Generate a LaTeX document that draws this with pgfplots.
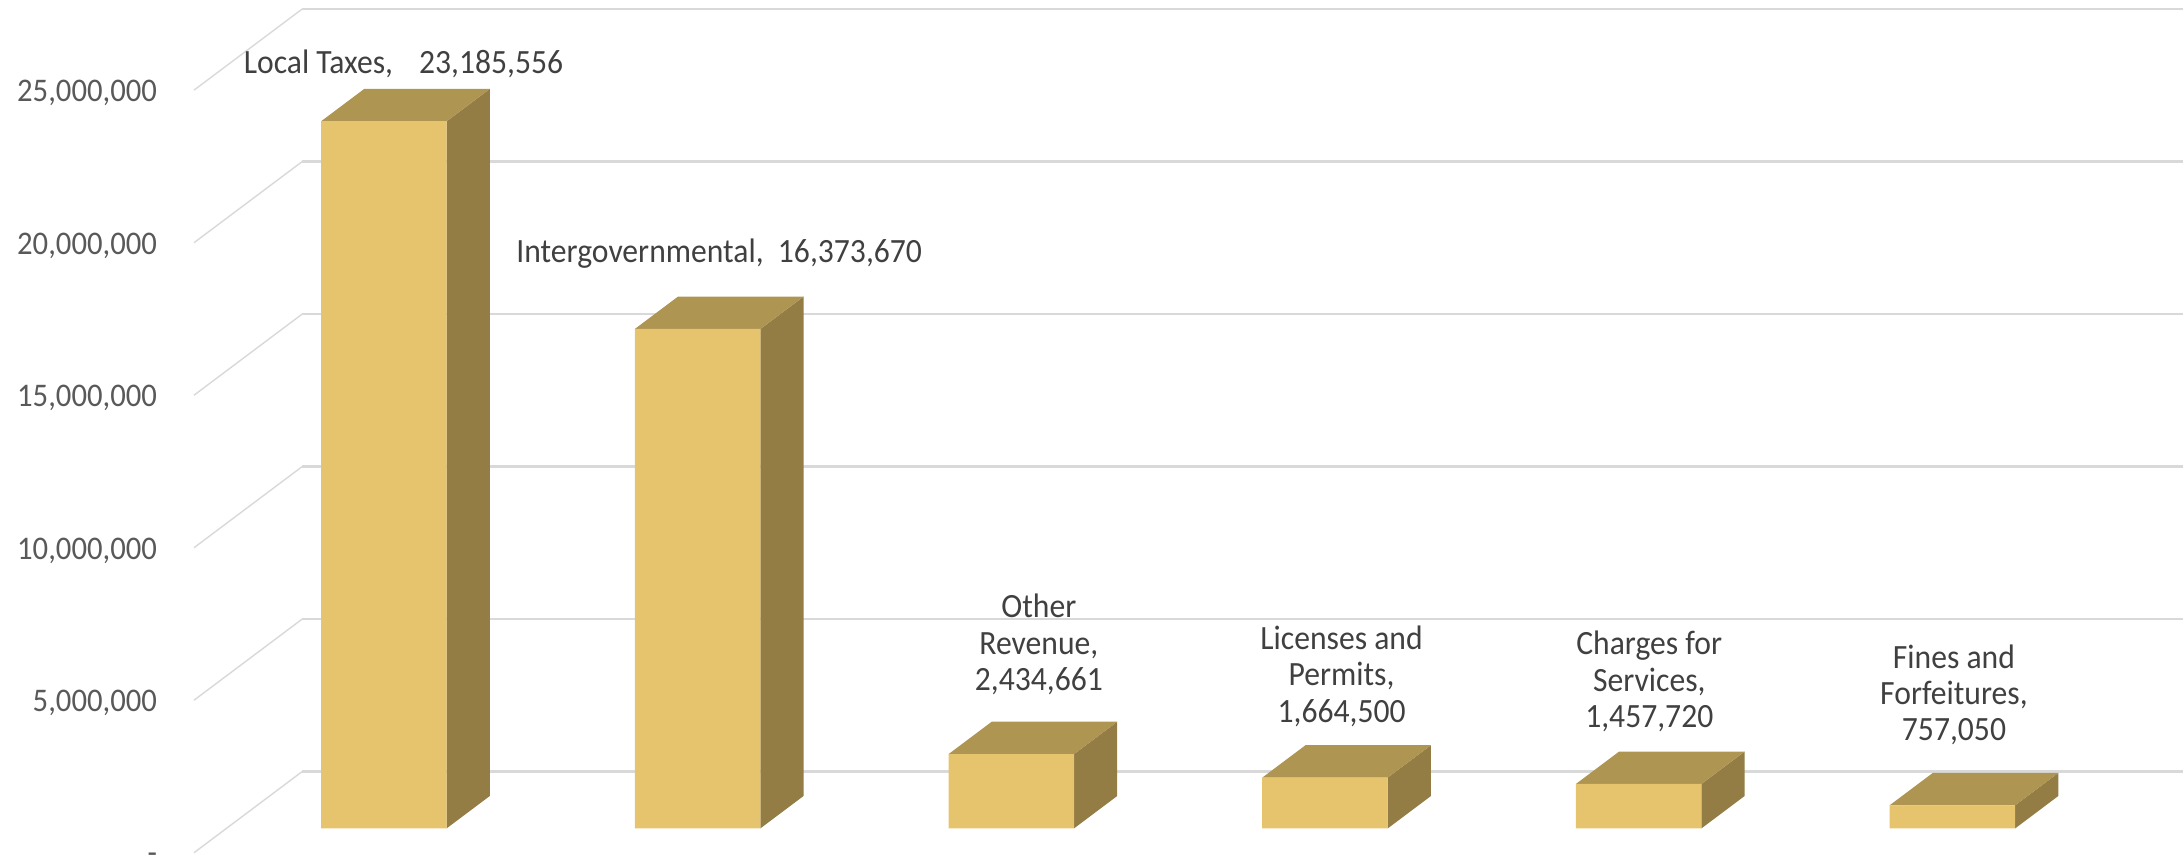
\documentclass[border=0pt]{standalone}
\usepackage{pgfplots}
\pgfplotsset{compat=1.18}
\usepackage{fontspec}
\setmainfont[FakeStretch=0.93]{Carlito}
\definecolor{barfront}{HTML}{E5C46D}
\definecolor{bartop}{HTML}{AE9552}
\definecolor{barside}{HTML}{937D45}
\definecolor{wall}{HTML}{D9D9D9}
\definecolor{ticktext}{HTML}{595959}
\definecolor{labeltext}{HTML}{404040}

% One gridline: along the side wall, then across the back wall
\newcommand{\gridlevel}[1]{%
  \addplot3[wall, line width=0.7pt, no marks] coordinates {(0,0,#1) (0,1,#1)};
  \addplot3[wall, line width=1.2pt, no marks] coordinates {(0,1,#1) (6,1,#1)};
}
% A box standing on the floor: left edge, right edge, value in millions
\newcommand{\revenuebar}[3]{%
  \addplot3[draw=none, fill=barside, no marks] coordinates {(#2,0.3,0) (#2,0.7,0) (#2,0.7,#3) (#2,0.3,#3) (#2,0.3,0)};
  \addplot3[draw=none, fill=bartop, no marks] coordinates {(#1,0.3,#3) (#2,0.3,#3) (#2,0.7,#3) (#1,0.7,#3) (#1,0.3,#3)};
  \addplot3[draw=none, fill=barfront, no marks] coordinates {(#1,0.3,0) (#2,0.3,0) (#2,0.3,#3) (#1,0.3,#3) (#1,0.3,0)};
}
% Data label placed relative to the rear top edge of its bar
\newcommand{\barlabel}[5]{%
  \node[align=center, text=labeltext, font=\fontsize{17}{18.2}\selectfont,
        xshift=#3*0.5pt, yshift=#4*0.5pt]
    at (axis cs:#1,0.7,#2) {#5};
}

\begin{document}
\begin{tikzpicture}[x=1pt,y=1pt]
\useasboundingbox (-97pt,-4.15pt) rectangle ++(1091.5pt,430.5pt);
\begin{axis}[
  at={(0,0)}, anchor=origin,
  x={(156.85pt,0pt)}, y={(54pt,40.5pt)}, z={(0pt,15.25pt)},
  xmin=0, xmax=6, ymin=0, ymax=1, zmin=0, zmax=25,
  xtick=\empty, ytick=\empty,
  ztick={0,5,10,15,20,25},
  zticklabels={\smash{\raisebox{-4.2pt}{-}},{5,000,000},{10,000,000},{15,000,000},{20,000,000},{25,000,000}},
  axis line style={draw=none},
  major tick length=0pt,
  clip=false,
  z tick label style={text=ticktext, font=\fontsize{16.5}{18}\selectfont, anchor=east, xshift=-15pt, yshift=-1.4pt},
]
\gridlevel{0}
\gridlevel{5}
\gridlevel{10}
\gridlevel{15}
\gridlevel{20}
\gridlevel{25}

\revenuebar{0.302}{0.702}{23.185556}
\revenuebar{1.302}{1.702}{16.373670}
\revenuebar{2.302}{2.702}{2.434661}
\revenuebar{3.302}{3.702}{1.664500}
\revenuebar{4.302}{4.702}{1.457720}
\revenuebar{5.302}{5.702}{0.757050}

\barlabel{0.5}{23.185556}{-23}{25}{Local Taxes,\hspace{13pt}23,185,556}
\barlabel{1.5}{16.373670}{-21}{43}{Intergovernmental,\ \ 16,373,670}
\barlabel{2.5}{2.434661}{-15}{77}{Other\\Revenue,\\2,434,661}
\barlabel{3.5}{1.664500}{-26}{69}{Licenses and\\Permits,\\1,664,500}
\barlabel{4.5}{1.457720}{-32}{70}{Charges for\\Services,\\1,457,720}
\barlabel{5.5}{0.757050}{-41}{78}{Fines and\\Forfeitures,\\757,050}
\end{axis}
\end{tikzpicture}
\end{document}
